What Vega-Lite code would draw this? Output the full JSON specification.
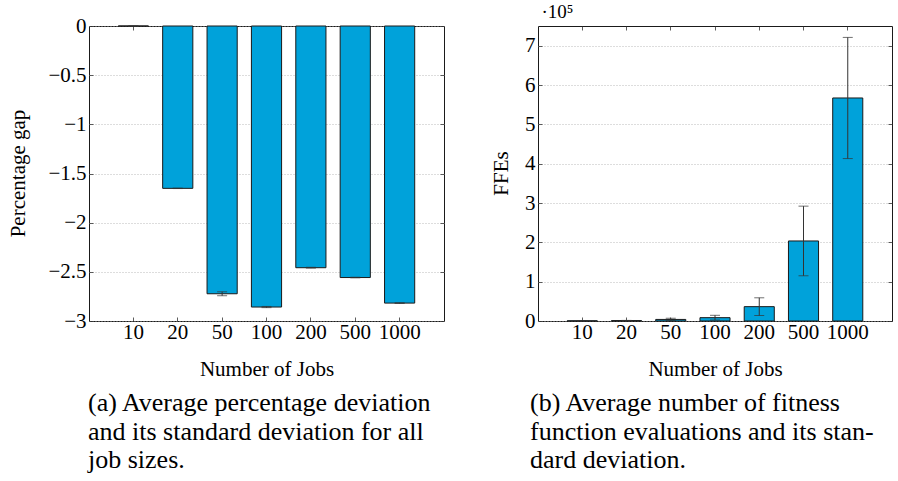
{
  "$schema": "https://vega.github.io/schema/vega-lite/v6.json",
  "padding": {"left": 6, "top": 1, "right": 0, "bottom": 0},
  "bounds": "flush",
  "spacing": 94,
  "config": {
    "font": "Liberation Serif",
    "view": {"stroke": "#1a1a1a", "strokeWidth": 1},
    "axis": {
      "domain": false,
      "tickSize": -4,
      "tickColor": "#333333",
      "tickWidth": 0.8,
      "labelFont": "Liberation Serif",
      "labelFontSize": 21,
      "labelColor": "#000000",
      "titleFont": "Liberation Serif",
      "titleFontSize": 21,
      "titleFontWeight": "normal",
      "titleColor": "#000000",
      "gridColor": "#a8a8a8",
      "gridDash": [1, 2],
      "gridWidth": 0.8,
      "labelFlush": false
    }
  },
  "hconcat": [
    {
      "width": 355,
      "height": 295,
      "title": {
        "text": ["(a) Average percentage deviation", "and its standard deviation for all", "job sizes."],
        "orient": "bottom",
        "anchor": "start",
        "frame": "group",
        "align": "left",
        "baseline": "alphabetic",
        "fontSize": 26,
        "lineHeight": 28.5,
        "fontWeight": "normal",
        "font": "Liberation Serif",
        "color": "#000000",
        "offset": 32,
        "dx": -1
      },
      "data": {"values": [
        {"jobs": 10, "gap": 0, "lo": 0, "hi": 0},
        {"jobs": 20, "gap": -1.651, "lo": -1.653, "hi": -1.649},
        {"jobs": 50, "gap": -2.723, "lo": -2.743, "hi": -2.703},
        {"jobs": 100, "gap": -2.858, "lo": -2.864, "hi": -2.852},
        {"jobs": 200, "gap": -2.458, "lo": -2.462, "hi": -2.454},
        {"jobs": 500, "gap": -2.558, "lo": -2.561, "hi": -2.555},
        {"jobs": 1000, "gap": -2.818, "lo": -2.821, "hi": -2.815}
      ]},
      "resolve": {"axis": {"x": "independent", "y": "independent"}},
      "layer": [
        {
          "mark": {"type": "bar", "fill": "#00a2da", "stroke": "#1a1a1a", "strokeWidth": 1},
          "encoding": {
            "x": {
              "field": "jobs", "type": "ordinal", "sort": null,
              "scale": {"paddingInner": 0.32, "paddingOuter": 0.66},
              "axis": {"orient": "bottom", "title": "Number of Jobs", "labelAngle": 0, "labelBaseline": "alphabetic", "labelPadding": 21, "titleX": 177.5, "titleY": 54, "titleBaseline": "alphabetic"}
            },
            "y": {
              "field": "gap", "type": "quantitative",
              "scale": {"domain": [-3, 0], "nice": false},
              "axis": {"orient": "left", "title": "Percentage gap", "values": [-3, -2.5, -2, -1.5, -1, -0.5, 0], "format": "~g", "grid": true, "labelPadding": 7, "titleX": -65, "titleY": 147, "titleBaseline": "alphabetic", "titleAngle": -90}
            }
          }
        },
        {
          "mark": {"type": "rule", "color": "#333333", "strokeWidth": 1},
          "encoding": {
            "x": {"field": "jobs", "type": "ordinal", "sort": null, "axis": {"orient": "top", "labels": false, "title": null}},
            "y": {"field": "lo", "type": "quantitative", "axis": {"orient": "right", "labels": false, "title": null, "grid": false, "values": [-3, -2.5, -2, -1.5, -1, -0.5, 0]}},
            "y2": {"field": "hi"}
          }
        },
        {
          "mark": {"type": "tick", "color": "#333333", "size": 10, "thickness": 1},
          "encoding": {
            "x": {"field": "jobs", "type": "ordinal", "sort": null, "axis": null},
            "y": {"field": "lo", "type": "quantitative", "axis": null}
          }
        },
        {
          "mark": {"type": "tick", "color": "#333333", "size": 10, "thickness": 1},
          "encoding": {
            "x": {"field": "jobs", "type": "ordinal", "sort": null, "axis": null},
            "y": {"field": "hi", "type": "quantitative", "axis": null}
          }
        }
      ]
    },
    {
      "width": 354,
      "height": 295,
      "title": {
        "text": ["(b) Average number of fitness", "function evaluations and its stan-", "dard deviation."],
        "orient": "bottom",
        "anchor": "start",
        "frame": "group",
        "align": "left",
        "baseline": "alphabetic",
        "fontSize": 26,
        "lineHeight": 28.5,
        "fontWeight": "normal",
        "font": "Liberation Serif",
        "color": "#000000",
        "offset": 32,
        "dx": -8
      },
      "data": {"values": [
        {"jobs": 10, "ffes": 500, "lo": 200, "hi": 800},
        {"jobs": 20, "ffes": 1000, "lo": 500, "hi": 1500},
        {"jobs": 50, "ffes": 4000, "lo": 1000, "hi": 7000},
        {"jobs": 100, "ffes": 8500, "lo": 2500, "hi": 14500},
        {"jobs": 200, "ffes": 36500, "lo": 14000, "hi": 59000},
        {"jobs": 500, "ffes": 203500, "lo": 115000, "hi": 292000},
        {"jobs": 1000, "ffes": 567000, "lo": 413000, "hi": 721000}
      ]},
      "resolve": {"axis": {"x": "independent", "y": "independent"}},
      "layer": [
        {
          "mark": {"type": "bar", "fill": "#00a2da", "stroke": "#1a1a1a", "strokeWidth": 1},
          "encoding": {
            "x": {
              "field": "jobs", "type": "ordinal", "sort": null,
              "scale": {"paddingInner": 0.32, "paddingOuter": 0.66},
              "axis": {"orient": "bottom", "title": "Number of Jobs", "labelAngle": 0, "labelBaseline": "alphabetic", "labelPadding": 21, "titleX": 177, "titleY": 54, "titleBaseline": "alphabetic"}
            },
            "y": {
              "field": "ffes", "type": "quantitative",
              "scale": {"domain": [0, 750000], "nice": false},
              "axis": {"orient": "left", "title": "FFEs", "values": [0, 100000, 200000, 300000, 400000, 500000, 600000, 700000], "labelExpr": "format(datum.value / 100000, '~g')", "grid": true, "labelPadding": 7, "titleX": -31, "titleY": 147, "titleBaseline": "alphabetic", "titleAngle": -90}
            }
          }
        },
        {
          "mark": {"type": "rule", "color": "#333333", "strokeWidth": 1},
          "encoding": {
            "x": {"field": "jobs", "type": "ordinal", "sort": null, "axis": {"orient": "top", "labels": false, "title": "·10⁵", "titleFontSize": 19, "titleX": 3, "titleY": -9, "titleAlign": "left", "titleBaseline": "alphabetic", "titleAngle": 0}},
            "y": {"field": "lo", "type": "quantitative", "axis": {"orient": "right", "labels": false, "title": null, "grid": false, "values": [0, 100000, 200000, 300000, 400000, 500000, 600000, 700000]}},
            "y2": {"field": "hi"}
          }
        },
        {
          "mark": {"type": "tick", "color": "#333333", "size": 10, "thickness": 1},
          "encoding": {
            "x": {"field": "jobs", "type": "ordinal", "sort": null, "axis": null},
            "y": {"field": "lo", "type": "quantitative", "axis": null}
          }
        },
        {
          "mark": {"type": "tick", "color": "#333333", "size": 10, "thickness": 1},
          "encoding": {
            "x": {"field": "jobs", "type": "ordinal", "sort": null, "axis": null},
            "y": {"field": "hi", "type": "quantitative", "axis": null}
          }
        }
      ]
    }
  ]
}
